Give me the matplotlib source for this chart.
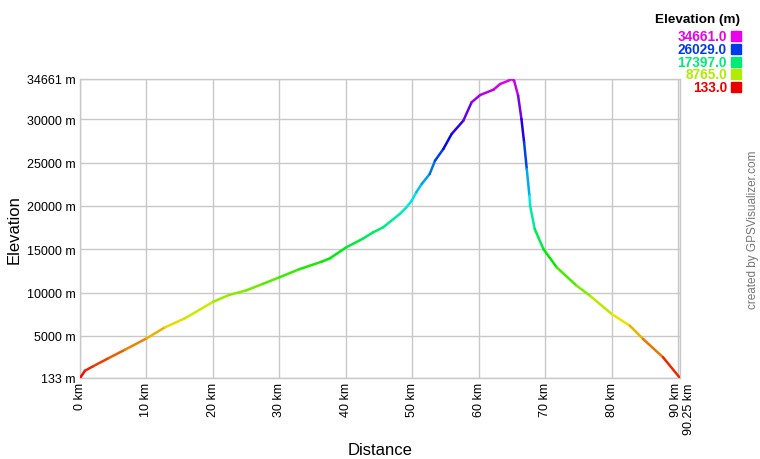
import colorsys
import matplotlib
matplotlib.use('Agg')
import matplotlib.pyplot as plt
import matplotlib.transforms as mtransforms
import numpy as np
from matplotlib.collections import LineCollection
from matplotlib.patches import Rectangle

plt.rcParams['font.family'] = ['Liberation Sans', 'DejaVu Sans']

# elevation profile (km, m)
dist = [0, 0.75, 2.0, 4.26, 6.77, 10.03, 12.79, 15.79, 20.05, 22.4, 25.0, 27.5,
        30.0, 33.0, 36.35, 37.6, 40.06, 42.5, 44.1, 45.6, 47.0, 48.1, 49.1,
        49.9, 50.6, 51.4, 52.6, 53.4, 54.65, 55.9, 57.66, 58.9, 60.2, 62.2,
        63.2, 64.4, 64.9, 65.3, 65.9, 66.4, 66.8, 67.2, 67.6, 67.7, 68.4,
        69.7, 71.7, 74.7, 76.7, 79.98, 82.7, 84.7, 87.7, 90.25]
elev = [133, 976, 1500, 2408, 3401, 4718, 5988, 7027, 8944, 9718, 10250, 11000,
        11762, 12700, 13563, 13958, 15226, 16200, 16960, 17535, 18400, 19073, 19845,
        20608, 21600, 22537, 23692, 25228, 26578, 28310, 29846, 31971, 32814, 33428,
        34085, 34450, 34661, 34470, 32733, 30043, 27350, 24269, 21186, 20030, 17340,
        15030, 12917, 10792, 9638, 7524, 6173, 4637, 2523, 133]

ytick_vals = [133, 5000, 10000, 15000, 20000, 25000, 30000, 34661]
xtick_vals = [0, 10, 20, 30, 40, 50, 60, 70, 80, 90, 90.25]
legend_vals = [34661.0, 26029.0, 17397.0, 8765.0, 133.0]

emin, emax = min(elev), max(elev)


def elev_color(e):
    h = (e - emin) / (emax - emin) * 300.0 / 360.0
    return colorsys.hsv_to_rgb(h, 1.0, 0.92)


fig = plt.figure(figsize=(7.6, 4.6), dpi=100)
ax = fig.add_axes([80 / 760, 81 / 460, 600 / 760, 299 / 460])

pts = np.column_stack([dist, elev])
segs = np.stack([pts[:-1], pts[1:]], axis=1)
cols = [elev_color((elev[i] + elev[i + 1]) / 2) for i in range(len(elev) - 1)]
lc = LineCollection(segs, colors=cols, linewidths=1.8, capstyle='round', zorder=3)
ax.add_collection(lc)

ax.set_xlim(0, 90.25)
ax.set_ylim(133, 34661)
ax.set_xticks(xtick_vals)
ax.set_xticklabels(['%g km' % v for v in xtick_vals], rotation=90, va='top', ha='center')
ax.set_yticks(ytick_vals)
ax.set_yticklabels(['%d m' % v for v in ytick_vals])
ax.tick_params(length=0, labelsize=9, pad=3)
ax.grid(True, color='#c8c8c8', linewidth=1)
for s in ax.spines.values():
    s.set_color('#c8c8c8')
    s.set_linewidth(1)

# push the last two x labels apart like the reference
xl = ax.get_xticklabels()
xl[-2].set_transform(xl[-2].get_transform() + mtransforms.ScaledTranslation(-2 / 100, 0, fig.dpi_scale_trans))
xl[-1].set_transform(xl[-1].get_transform() + mtransforms.ScaledTranslation(9 / 100, 0, fig.dpi_scale_trans))

ax.set_xlabel('Distance', fontsize=12, labelpad=6)
ax.set_ylabel('Elevation', fontsize=12, labelpad=4)

# legend
fig.text(740 / 760, 1 - 20 / 460, 'Elevation (m)', ha='right', va='center',
         fontsize=9.7, fontweight='bold')
for i, v in enumerate(legend_vals):
    yc = 1 - (37 + i * 12.8) / 460
    c = elev_color(v)
    fig.text(727 / 760, yc, '%.1f' % v, ha='right', va='center', fontsize=9.8,
             fontweight='bold', color=c)
    fig.add_artist(Rectangle((731 / 760, yc - 5 / 460), 10 / 760, 10 / 460,
                             transform=fig.transFigure, color=c))

fig.text(753 / 760, 1 - 230 / 460, 'created by GPSVisualizer.com', rotation=90,
         ha='center', va='center', fontsize=8.5, color='#777777')

fig.savefig('out.png', dpi=100)
